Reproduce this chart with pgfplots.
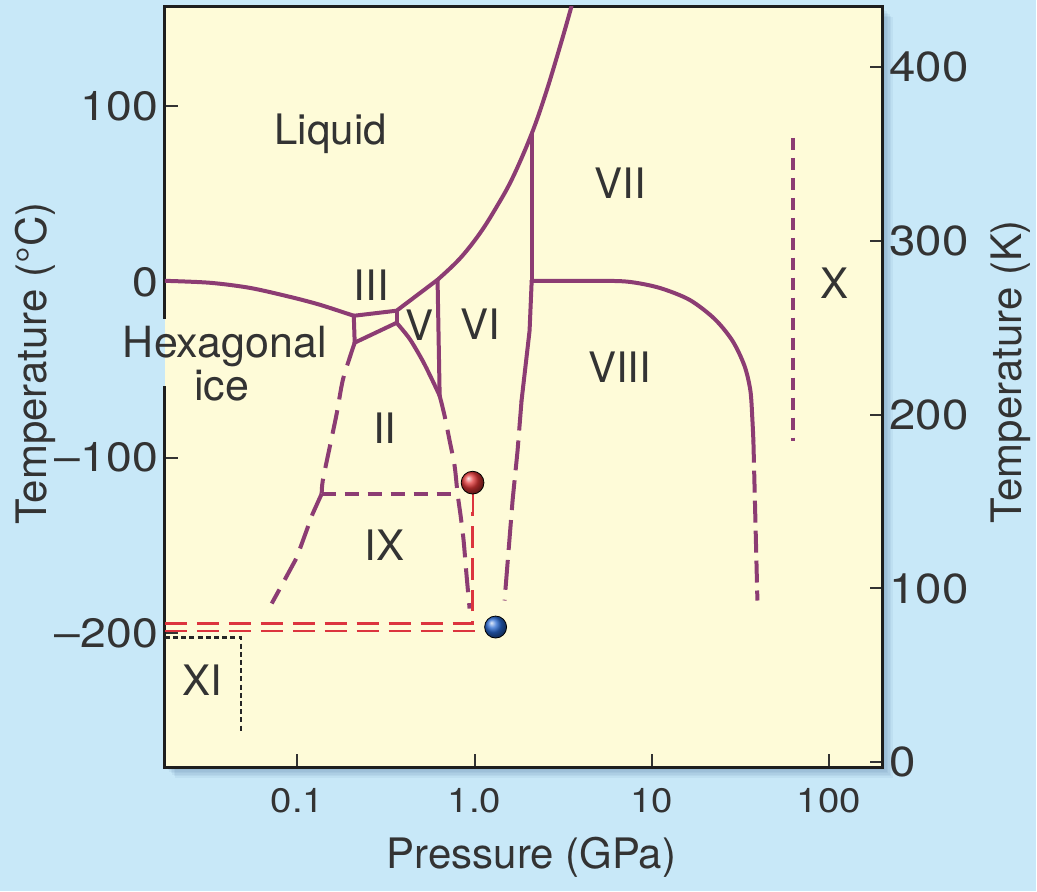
\documentclass[border=0pt]{standalone}
\usepackage{fontspec}
\setmainfont{TeX Gyre Heros}
\newfontfamily\tickfont[FakeStretch=1.13]{TeX Gyre Heros}
\usepackage{pgfplots}
\pgfplotsset{compat=1.18}
\definecolor{bgblue}{RGB}{200,232,248}
\definecolor{plotyellow}{RGB}{254,251,216}
\definecolor{phase}{RGB}{140,60,115}
\definecolor{redline}{RGB}{220,52,62}
\definecolor{txt}{RGB}{51,51,51}
\definecolor{shadowcol}{RGB}{80,120,160}
\definecolor{boxline}{RGB}{30,30,30}
\begin{document}
\begin{tikzpicture}[x=1pt,y=1pt,
  lbl/.style={font=\fontsize{21}{25}\selectfont, text=txt, anchor=base},
  sol/.style={phase, line width=2pt, line join=round, line cap=round},
  dsh/.style={phase, line width=2pt, line join=round, dash pattern=on 12pt off 5.5pt}]
\fill[bgblue] (-82.5,-62) rectangle (436,384);
\foreach \s in {1,...,7} { \fill[shadowcol,opacity=0.08] (\s*0.75,-\s*0.75) rectangle (359+\s*0.75,380.5-\s*0.75); }
\begin{axis}[
  at={(0,0)}, anchor=south west, scale only axis, width=359pt, height=380.5pt,
  xmode=log, xmin=0.01786, xmax=200, ymin=-276.4, ymax=156.5,
  axis background/.style={fill=plotyellow},
  axis line style={line width=1.5pt, color=boxline},
  tick align=inside, xtick pos=bottom, ytick pos=left,
  xtick={0.1,1,10,100}, xticklabels={0.1,1.0,10,100},
  xminorticks=false,
  ytick={-200,-100,0,100}, yticklabels={–200,–100,0,100},
  major tick length=6.5pt,
  tick style={line width=1pt, color=txt},
  xticklabel style={font=\tickfont\fontsize{17}{20}\selectfont, text=txt, yshift=-7pt},
  yticklabel style={font=\tickfont\fontsize{20.5}{24}\selectfont, text=txt},
  clip mode=individual,
]
% Ih melting curve
\addplot[sol, smooth] coordinates {(0.01786,0.6) (0.032,-0.5) (0.0538,-3.4) (0.0905,-8.5) (0.1336,-13.0) (0.208,-19.3)};
% L-III, L-V
\addplot[sol] coordinates {(0.208,-19.3) (0.363,-16.4) (0.618,1.2)};
% Ih-III
\addplot[sol] coordinates {(0.208,-19.3) (0.2105,-34.6)};
% III-II
\addplot[sol] coordinates {(0.2105,-34.6) (0.363,-23.3)};
% III-V
\addplot[sol] coordinates {(0.363,-16.4) (0.363,-23.3)};
% II-V
\addplot[sol, smooth] coordinates {(0.363,-23.3) (0.4298,-32.4) (0.509,-44.9) (0.5795,-56.3) (0.635,-64.8)};
% V-VI
\addplot[sol] coordinates {(0.618,1.2) (0.635,-64.8)};
% II-VI and IX-VI (dashed)
\addplot[dsh, smooth] coordinates {(0.635,-64.8) (0.677,-76.2) (0.7228,-90.4) (0.771,-104.6) (0.8015,-120.6) (0.834,-133.2) (0.867,-147.3) (0.901,-167.2) (0.937,-186.0)};
% Ih-II and Ih-IX (dashed)
\addplot[dsh, smooth] coordinates {(0.2105,-34.6) (0.1972,-43.2) (0.18,-56.3) (0.1666,-75.0) (0.152,-94.3) (0.139,-113.2) (0.1371,-120.6)};
\addplot[dsh] coordinates {(0.1371,-120.6) (0.1219,-132.0) (0.0991,-157.0) (0.0826,-171.7) (0.0716,-183.1)};
% IX top
\addplot[phase, line width=2pt, dash pattern=on 7pt off 4.5pt] coordinates {(0.1371,-120.6) (0.8015,-120.6)};
% high-pressure melting curve
\addplot[sol, smooth, tension=0.6] coordinates {(0.618,1.2) (0.8229,13.1) (1.067,27.4) (1.331,42.7) (1.638,59.2) (2.097,84.2) (2.547,108.7) (3.135,138.9) (3.525,157.0)};
% VI-VII
\addplot[sol] coordinates {(2.1,0.6) (2.1,84.2)};
% VI-VIII
\addplot[sol] coordinates {(2.1,0.6) (2.043,-27.8) (1.841,-67.6)};
\addplot[phase, line width=2pt, dash pattern=on 15pt off 5pt] coordinates {(1.841,-67.6) (1.748,-96.1) (1.638,-124.5) (1.555,-153.0) (1.476,-181.4)};
% VII-VIII
\addplot[sol, smooth] coordinates {(2.1,0.6) (5.07,0.6) (7.485,0) (11.05,-3.4) (16.32,-10.2) (22.57,-21.0) (28.52,-33.5) (33.33,-47.7) (36.03,-62.0) (37.0,-79.1) (37.46,-90.4)};
\addplot[phase, line width=2pt, dash pattern=on 11pt off 4pt] coordinates {(37.46,-90.4) (38.46,-135.9) (39.47,-181.4)};
% X
\addplot[phase, line width=2pt, dash pattern=on 6pt off 4pt] coordinates {(62.97,82.0) (62.97,-90.4)};
% red paths
\addplot[redline, line width=1.4pt, dash pattern=on 11pt off 5pt] coordinates {(0.01786,-194.5) (0.974,-194.5) (0.974,-131)};
\addplot[redline, line width=1pt] coordinates {(0.974,-131) (0.974,-115)};
\addplot[redline, line width=1.4pt, dash pattern=on 11pt off 5pt] coordinates {(0.01786,-198.8) (1.314,-198.8)};
% XI
\addplot[black!85, line width=1.1pt, dash pattern=on 2.5pt off 1.6pt] coordinates {(0.01786,-202.5) (0.0479,-202.5) (0.0479,-256.5)};
% balls
\addplot[only marks, mark=ball, mark size=5.7pt, ball color={rgb,255:red,225;green,55;blue,55}] coordinates {(0.974,-114.3)};
\addplot[only marks, mark=ball, mark size=5.5pt, ball color={rgb,255:red,40;green,105;blue,210}] coordinates {(1.314,-196.5)};
% labels
\node[lbl] at (axis cs:0.154,78.0) {Liquid};
\node[lbl] at (axis cs:0.2608,-10.8) {III};
\node[lbl] at (axis cs:0.4897,-33.5) {V};
\node[lbl] at (axis cs:1.081,-33.0) {VI};
\node[lbl] at (axis cs:0.3108,-92.1) {II};
\node[lbl] at (axis cs:0.3108,-158.6) {IX};
\node[lbl] at (axis cs:0.02904,-235.4) {XI};
\node[lbl] at (axis cs:6.66,47.3) {VII};
\node[lbl] at (axis cs:6.575,-57.4) {VIII};
\node[lbl] at (axis cs:107.3,-9.6) {X};
\end{axis}
\begin{axis}[
  at={(0,0)}, anchor=south west, scale only axis, width=359pt, height=380.5pt,
  xmin=0, xmax=1, ymin=-2.9, ymax=434.5,
  axis x line=none, axis y line*=right,
  axis line style={line width=1.5pt, color=boxline},
  tick align=inside,
  ytick={0,100,200,300,400}, yticklabels={0,100,200,300,400},
  major tick length=6pt,
  tick style={line width=1pt, color=txt},
  yticklabel style={font=\tickfont\fontsize{21}{24}\selectfont, text=txt},
]
\addplot[draw=none] coordinates {(0.5,100)};
\end{axis}
% gap in left axis line behind the label
\fill[bgblue] (-1.2,191) rectangle (0,224.5);
\fill[plotyellow] (0,191) rectangle (1.2,224.5);
\node[font=\fontsize{21.5}{25}\selectfont, text=txt, anchor=base] at (30,205) {Hexagonal};
\node[font=\fontsize{21.5}{25}\selectfont, text=txt, anchor=base] at (28.5,183.5) {ice};
% axis titles
\node[font=\fontsize{21}{25}\selectfont, text=txt, anchor=base] at (183.5,-50.5) {Pressure (GPa)};
\node[font=\fontsize{21}{25}\selectfont, text=txt, anchor=base, rotate=90] at (-59,202) {Temperature (°C)};
\node[font=\fontsize{21}{25}\selectfont, text=txt, anchor=base, rotate=90] at (428.5,198) {Temperature (K)};
\end{tikzpicture}
\end{document}
